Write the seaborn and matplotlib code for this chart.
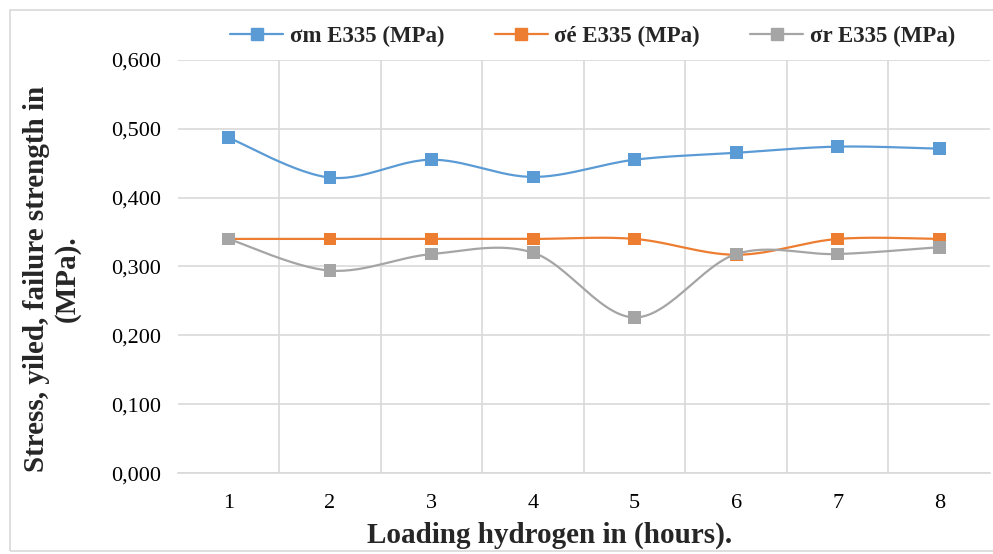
import numpy as np
import pandas as pd
import matplotlib
matplotlib.use("Agg")
import matplotlib.pyplot as plt
import seaborn as sns
from matplotlib.lines import Line2D
from matplotlib.patches import Rectangle

hours = [1, 2, 3, 4, 5, 6, 7, 8]
sigma_m = [0.487, 0.429, 0.455, 0.430, 0.455, 0.465, 0.474, 0.471]
sigma_e = [0.340, 0.340, 0.340, 0.340, 0.340, 0.317, 0.340, 0.340]
sigma_r = [0.340, 0.294, 0.318, 0.320, 0.226, 0.318, 0.318, 0.328]
series_names = ["σm E335 (MPa)", "σé E335 (MPa)", "σr E335 (MPa)"]
colors = ["#5B9BD5", "#ED7D31", "#A5A5A5"]
yticks = [0.0, 0.1, 0.2, 0.3, 0.4, 0.5, 0.6]
ytick_labels = ["0,000", "0,100", "0,200", "0,300", "0,400", "0,500", "0,600"]
xlabel = "Loading hydrogen in (hours)."
ylabel = "Stress, yiled, failure strength in\n(MPa)."


def smooth(x, y, n=30):
    # Excel-like smoothing: Catmull-Rom Bezier segments
    x = np.asarray(x, float)
    y = np.asarray(y, float)
    px, py = [], []
    for i in range(len(x) - 1):
        x0, y0 = (x[i - 1], y[i - 1]) if i > 0 else (x[i], y[i])
        x3, y3 = (x[i + 2], y[i + 2]) if i + 2 < len(x) else (x[i + 1], y[i + 1])
        x1, y1, x2, y2 = x[i], y[i], x[i + 1], y[i + 1]
        c1x, c1y = x1 + (x2 - x0) / 6, y1 + (y2 - y0) / 6
        c2x, c2y = x2 - (x3 - x1) / 6, y2 - (y3 - y1) / 6
        t = np.linspace(0, 1, n)
        bx = (1 - t) ** 3 * x1 + 3 * (1 - t) ** 2 * t * c1x + 3 * (1 - t) * t ** 2 * c2x + t ** 3 * x2
        by = (1 - t) ** 3 * y1 + 3 * (1 - t) ** 2 * t * c1y + 3 * (1 - t) * t ** 2 * c2y + t ** 3 * y2
        px.extend(bx)
        py.extend(by)
    return np.array(px), np.array(py)


sns.set_theme(style="white")
plt.rcParams["font.family"] = ["Liberation Serif", "DejaVu Serif"]

fig = plt.figure(figsize=(9.93, 5.54), dpi=100)
ax = fig.add_axes([0.179, 0.146, 0.818, 0.746])

df = pd.DataFrame({"hours": hours * 3,
                   "value": sigma_m + sigma_e + sigma_r,
                   "series": [series_names[0]] * 8 + [series_names[1]] * 8 + [series_names[2]] * 8})

for name, vals, c in zip(series_names, [sigma_m, sigma_e, sigma_r], colors):
    sx, sy = smooth(hours, vals)
    ax.plot(sx, sy, color=c, lw=1.6, zorder=3)

sns.scatterplot(data=df, x="hours", y="value", hue="series", palette=colors,
                marker="s", s=85, edgecolor="none", legend=False, ax=ax, zorder=4)

ax.set_xlim(0.5, 8.5)
ax.set_ylim(0, 0.6)
ax.set_yticks(yticks)
ax.set_yticklabels(ytick_labels)
ax.set_xticks(hours)
ax.set_xticklabels([str(h) for h in hours])
ax.set_xticks(np.arange(1.5, 8.5, 1), minor=True)
ax.grid(False)
ax.yaxis.grid(True, color="#D9D9D9", lw=1.2)
ax.xaxis.grid(True, which="minor", color="#D9D9D9", lw=1.2)
ax.tick_params(axis="both", which="both", length=0, labelsize=16, colors="#000000")
ax.tick_params(axis="x", pad=15)
ax.tick_params(axis="y", pad=12)
for s in ["left", "right", "top"]:
    ax.spines[s].set_visible(False)
ax.spines["bottom"].set_color("#D9D9D9")
ax.spines["bottom"].set_linewidth(1.2)

ax.set_xlabel(xlabel, fontsize=21, fontweight="bold")
ax.xaxis.set_label_coords(0.458, -0.118)
ax.set_ylabel(ylabel, fontsize=21, fontweight="bold", linespacing=1.15)
ax.yaxis.set_label_coords(-0.12, 0.47)

handles = [Line2D([0], [0], color=c, lw=1.6, marker="s", markersize=8) for c in colors]
fig.legend(handles, series_names, loc="center", bbox_to_anchor=(0.597, 0.935), ncol=3,
           frameon=False, prop={"size": 16.5, "weight": "bold"}, handlelength=2.3,
           columnspacing=2.2, handletextpad=0.3)

fig.patches.append(Rectangle((0.010, 0.005), 1.2, 0.977, transform=fig.transFigure,
                             fill=False, edgecolor="#D9D9D9", lw=1.2))

fig.savefig("out.png", dpi=100)
